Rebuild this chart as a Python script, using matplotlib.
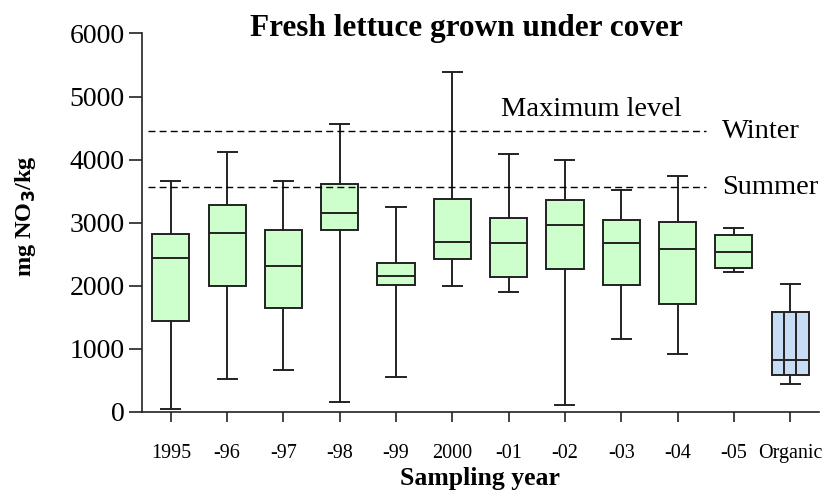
import matplotlib
matplotlib.use('Agg')
import matplotlib.pyplot as plt

plt.rcParams['font.family'] = ['Liberation Serif', 'DejaVu Serif']

# sampling years and box statistics (mg NO3/kg)
labels = ['1995', '-96', '-97', '-98', '-99', '2000', '-01', '-02', '-03', '-04', '-05', 'Organic']
whislo = [52, 522, 665, 153, 559, 1990, 1905, 100, 1161, 918, 2216, 438]
q1 = [1445, 1995, 1646, 2876, 2010, 2427, 2132, 2269, 2010, 1705, 2280, 581]
med = [2433, 2834, 2311, 3155, 2153, 2691, 2680, 2960, 2670, 2585, 2528, 818]
q3 = [2813, 3272, 2876, 3620, 2364, 3372, 3071, 3356, 3034, 3013, 2797, 1583]
whishi = [3662, 4121, 3657, 4564, 3250, 5393, 4084, 3994, 3519, 3747, 2918, 2031]

# maximum levels
winter_max = 4450
summer_max = 3560

green = '#ccffcc'
blue = '#c8dcf6'
edge = '#222222'

fig = plt.figure(figsize=(8.39, 4.92), dpi=100)
ax = fig.add_axes([0.169, 0.163, 0.807, 0.769])

stats = []
for i in range(len(labels)):
    stats.append({'label': labels[i], 'whislo': whislo[i], 'q1': q1[i],
                  'med': med[i], 'q3': q3[i], 'whishi': whishi[i]})

positions = list(range(1, len(labels) + 1))
box_w = 0.66
lw = 1.4
bp = ax.bxp(stats, positions=positions, widths=box_w, capwidths=0.34,
            showfliers=False, patch_artist=True,
            boxprops=dict(edgecolor=edge, linewidth=lw),
            whiskerprops=dict(color=edge, linewidth=lw),
            capprops=dict(color=edge, linewidth=lw),
            medianprops=dict(color=edge, linewidth=lw))
for i, box in enumerate(bp['boxes']):
    box.set_facecolor(blue if labels[i] == 'Organic' else green)

# the organic box has two inner vertical lines splitting it in thirds
org = labels.index('Organic')
p = positions[org]
ax.vlines([p - box_w / 6, p + box_w / 6], q1[org], q3[org], colors=edge, linewidth=lw, zorder=3)

# maximum level lines
ax.hlines([winter_max, summer_max], 0.6, 10.5, colors='black', linestyles=(0, (5, 3)), linewidth=1.0)
ax.text(10.79, winter_max, 'Winter', fontsize=20.5, va='center', ha='left')
ax.text(10.79, summer_max, 'Summer', fontsize=20.5, va='center', ha='left')
ax.text(8.47, 4790, 'Maximum level', fontsize=20.5, va='center', ha='center')

ax.set_xlim(0.485, 12.51)
ax.set_ylim(0, 6000)
ax.set_yticks([0, 1000, 2000, 3000, 4000, 5000, 6000])
ax.set_xticks(positions)
ax.set_xticklabels(labels)

ax.spines['top'].set_visible(False)
ax.spines['right'].set_visible(False)
for s in ['left', 'bottom']:
    ax.spines[s].set_linewidth(1.2)
    ax.spines[s].set_color(edge)

ax.tick_params(axis='y', direction='out', length=9.5, width=1.2, pad=3, labelsize=20, color=edge)
ax.tick_params(axis='x', direction='out', length=7, width=1.2, pad=16, labelsize=14.5, color=edge)

fig.text(0.556, 0.943, 'Fresh lettuce grown under cover', fontsize=22.5, fontweight='bold',
         ha='center', va='center')
ax.set_xlabel('Sampling year', fontsize=18.5, fontweight='bold', labelpad=3)
ax.set_ylabel('mg NO$_\\mathbf{3}$/kg', fontsize=17.5, fontweight='bold')
ax.yaxis.set_label_coords(-0.153, 0.517)

fig.savefig('out.png', dpi=100)
